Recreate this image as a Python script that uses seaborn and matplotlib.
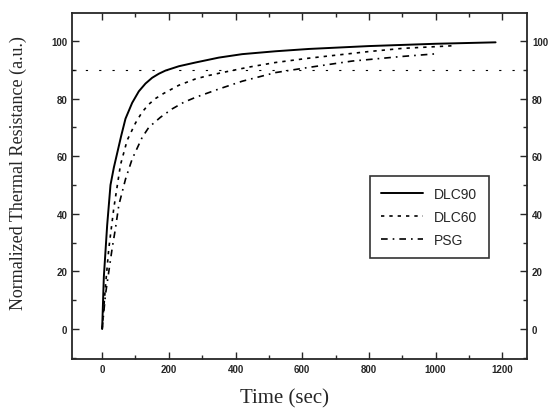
import matplotlib
matplotlib.use("Agg")
import matplotlib.pyplot as plt
import numpy as np
import pandas as pd
import seaborn as sns
from matplotlib.ticker import MultipleLocator

# values
time_dlc90 = [0, 5, 15, 25, 35, 45, 57, 70, 90, 110, 130, 150, 170, 190, 230, 280,
              350, 420, 520, 620, 800, 1000, 1180]
dlc90 = [0, 18, 36, 50, 56, 61, 67, 73, 78.5, 82.5, 85.2, 87.2, 88.6, 89.7, 91.2, 92.5,
         94.2, 95.4, 96.4, 97.2, 98.2, 99, 99.5]

time_dlc60 = [0, 10, 20, 35, 55, 75, 100, 120, 140, 160, 185, 230, 280, 320, 360, 440,
              520, 620, 800, 900, 1050]
dlc60 = [0, 15, 28, 42, 57, 65.5, 71.5, 75.3, 78, 80, 81.8, 84.6, 86.8, 88, 89, 90.9,
         92.5, 94, 96.3, 97.4, 98.3]

time_psg = [0, 10, 20, 30, 40, 50, 70, 90, 120, 140, 175, 210, 245, 280, 350, 420, 520,
            620, 750, 900, 1000]
psg = [0, 12, 20, 28, 35, 43, 52, 59, 66.5, 70, 73.5, 76.4, 78.7, 80.4, 83.3, 86, 89,
       90.8, 93, 94.6, 95.5]

ref_level = 90
x_ticks = [0, 200, 400, 600, 800, 1000, 1200]
y_ticks = [0, 20, 40, 60, 80, 100]

sns.set_style("ticks")
plt.rcParams['font.family'] = ['Liberation Sans', 'DejaVu Sans']

fig = plt.figure(figsize=(5.55, 4.10), dpi=100)
ax = fig.add_axes([0.130, 0.122, 0.820, 0.844])

# saturation reference line
ax.axhline(ref_level, color="black", lw=0.8, ls=(0, (2, 10)))

df90 = pd.DataFrame({"t": time_dlc90, "v": dlc90})
df60 = pd.DataFrame({"t": time_dlc60, "v": dlc60})
dfpsg = pd.DataFrame({"t": time_psg, "v": psg})

sns.lineplot(data=df90, x="t", y="v", ax=ax, color="black", lw=1.4, label="DLC90")
sns.lineplot(data=df60, x="t", y="v", ax=ax, color="black", lw=1.2,
             ls=(0, (2, 3)), label="DLC60")
sns.lineplot(data=dfpsg, x="t", y="v", ax=ax, color="black", lw=1.2,
             ls=(0, (4, 3, 1, 3)), label="PSG")

ax.set_xlim(-90, 1275)
ax.set_ylim(-10.4, 109.7)
ax.set_xticks(x_ticks)
ax.set_yticks(y_ticks)
ax.xaxis.set_minor_locator(MultipleLocator(100))
ax.yaxis.set_minor_locator(MultipleLocator(10))
ax.tick_params(which="both", direction="in", top=True, right=True,
               labelright=True, labelsize=7, width=1)
ax.tick_params(which="major", length=5)
ax.tick_params(which="minor", length=3)
for lab in ax.get_xticklabels() + ax.get_yticklabels():
    lab.set_fontweight("bold")
for sp in ax.spines.values():
    sp.set_linewidth(1.3)

ax.set_xlabel("Time (sec)", family="Liberation Serif", fontsize=15)
ax.set_ylabel("Normalized Thermal Resistance (a.u.)", family="Liberation Serif",
              fontsize=13)
ax.xaxis.set_label_coords(0.466, -0.085)
ax.yaxis.set_label_coords(-0.1, 0.54)

leg = ax.legend(loc="upper left", bbox_to_anchor=(0.64, 0.55), frameon=True,
                fancybox=False, edgecolor="black", fontsize=10, handlelength=3,
                borderpad=0.8, labelspacing=0.65)
leg.get_frame().set_linewidth(1.2)

fig.savefig("out.png", dpi=100)
